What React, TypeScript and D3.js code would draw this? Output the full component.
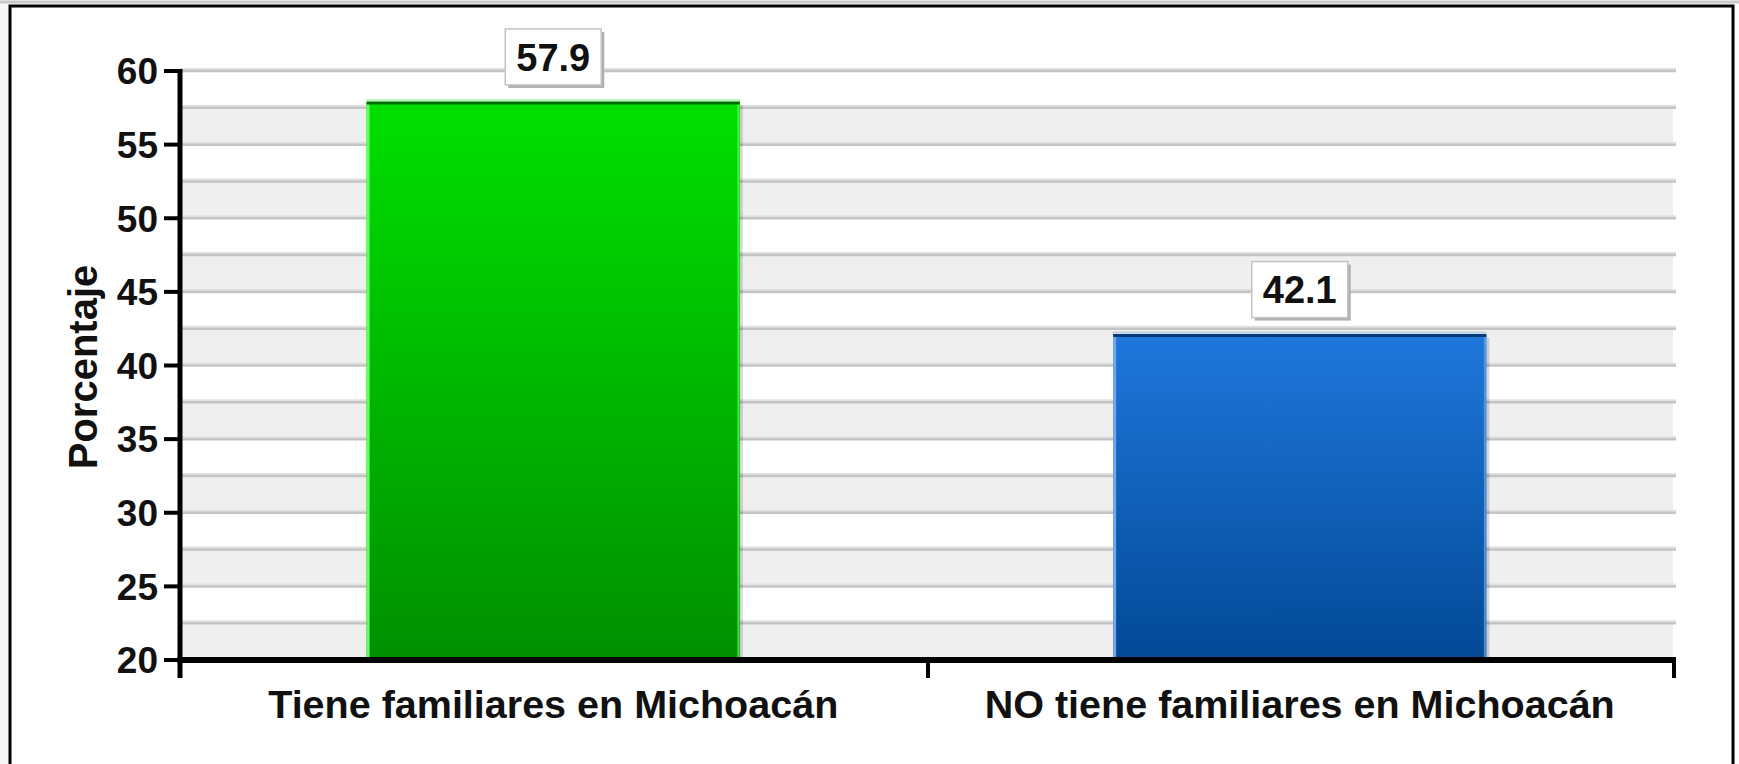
import React from "react";
import * as d3 from "d3";

const categories = ["Tiene familiares en Michoacán", "NO tiene familiares en Michoacán"];
const values = [57.9, 42.1];
const valueLabels = ["57.9", "42.1"];
const yTicks = [20, 25, 30, 35, 40, 45, 50, 55, 60];
const yTitle = "Porcentaje";

const W = 1739;
const H = 764;
const FONT = "'Liberation Sans', Arial, sans-serif";

export default function App() {
  const y = d3.scaleLinear().domain([20, 60]).range([660, 71]);
  const x = d3.scaleBand<string>().domain(categories).range([180, 1673]).padding(0);
  const bw = x.bandwidth() * 0.5;
  const grid = d3.range(20, 60.001, 2.5);
  const shaded = d3.range(20, 60, 5);
  const gradIds = ["gGreen", "gBlue"];

  return (
    <svg width={W} height={H} style={{ position: "absolute", left: 0, top: 0, display: "block" }} fontFamily={FONT}>
      <defs>
        <linearGradient id="gGreen" x1="0" y1="0" x2="0" y2="1">
          <stop offset="0" stopColor="#00e000" />
          <stop offset="1" stopColor="#008f00" />
        </linearGradient>
        <linearGradient id="gBlue" x1="0" y1="0" x2="0" y2="1">
          <stop offset="0" stopColor="#1f77dc" />
          <stop offset="1" stopColor="#034996" />
        </linearGradient>
      </defs>
      <rect x={0} y={0} width={W} height={H} fill="#ffffff" />
      <rect x={0} y={0} width={10} height={H} fill="#f6f6f6" />
      <line x1={0} x2={W} y1={2} y2={2} stroke="#c8c8c8" strokeWidth={3} />
      <rect x={10} y={6} width={1723} height={H + 20} fill="#ffffff" stroke="#000" strokeWidth={3} />

      {shaded.map((v) => (
        <rect key={"s" + v} x={180} y={y(v + 2.5)} width={1673 - 180} height={y(v) - y(v + 2.5)} fill="#efefef" />
      ))}
      {grid.map((v) => (
        <g key={"g" + v}>
          <line x1={180} x2={1676} y1={y(v) - 2} y2={y(v) - 2} stroke="#e2e2e2" strokeWidth={2} />
          <line x1={180} x2={1676} y1={y(v)} y2={y(v)} stroke="#c4c4c4" strokeWidth={2.5} />
        </g>
      ))}

      {categories.map((c, i) => {
        const cx = (x(c) as number) + x.bandwidth() / 2;
        const x0 = cx - bw / 2;
        const top = y(values[i]);
        const edge = i === 0 ? "#5fff5f" : "#6fa8ec";
        const topEdge = i === 0 ? "#006d00" : "#043a78";
        return (
          <g key={c}>
            <rect x={x0 + 3} y={top + 3} width={bw} height={660 - top} fill="#000" opacity={0.15} />
            <rect x={x0} y={top} width={bw} height={660 - top} fill={`url(#${gradIds[i]})`} />
            <line x1={x0 + 1.5} x2={x0 + 1.5} y1={top} y2={660} stroke={edge} strokeWidth={3} />
            <line x1={x0 + bw - 1.5} x2={x0 + bw - 1.5} y1={top} y2={660} stroke={edge} strokeWidth={2} opacity={0.7} />
            <line x1={x0} x2={x0 + bw} y1={top - 2} y2={top - 2} stroke={i === 0 ? "#b8f5b8" : "#b8cde8"} strokeWidth={2} />
            <line x1={x0} x2={x0 + bw} y1={top + 1} y2={top + 1} stroke={topEdge} strokeWidth={3} />
            <rect x={cx - 48 + 3} y={top - 73 + 3} width={96} height={56} fill="#b0b0b0" />
            <rect x={cx - 48} y={top - 73} width={96} height={56} fill="#ffffff" stroke="#c4c4c4" strokeWidth={1.5} />
            <text x={cx} y={top - 73 + 28} dy="0.36em" textAnchor="middle" fontSize={38} fontWeight="bold" fill="#111">
              {valueLabels[i]}
            </text>
            <text x={cx} y={718} textAnchor="middle" fontSize={39.5} fontWeight="bold" fill="#111">
              {c}
            </text>
          </g>
        );
      })}

      {/* axes */}
      <line x1={180} x2={180} y1={69} y2={678} stroke="#000" strokeWidth={5} />
      <line x1={177.5} x2={1676} y1={660} y2={660} stroke="#000" strokeWidth={6} />
      <line x1={928} x2={928} y1={660} y2={678} stroke="#000" strokeWidth={4} />
      <line x1={1674} x2={1674} y1={660} y2={678} stroke="#000" strokeWidth={4} />
      {yTicks.map((t) => (
        <g key={"t" + t}>
          <line x1={164} x2={180} y1={y(t)} y2={y(t)} stroke="#000" strokeWidth={4} />
          <text x={158} y={y(t)} dy="0.36em" textAnchor="end" fontSize={37} fontWeight="bold" fill="#111">
            {t}
          </text>
        </g>
      ))}
      <text transform={`translate(97, 367) rotate(-90)`} textAnchor="middle" fontSize={40} fontWeight="bold" fill="#111">
        {yTitle}
      </text>
    </svg>
  );
}
